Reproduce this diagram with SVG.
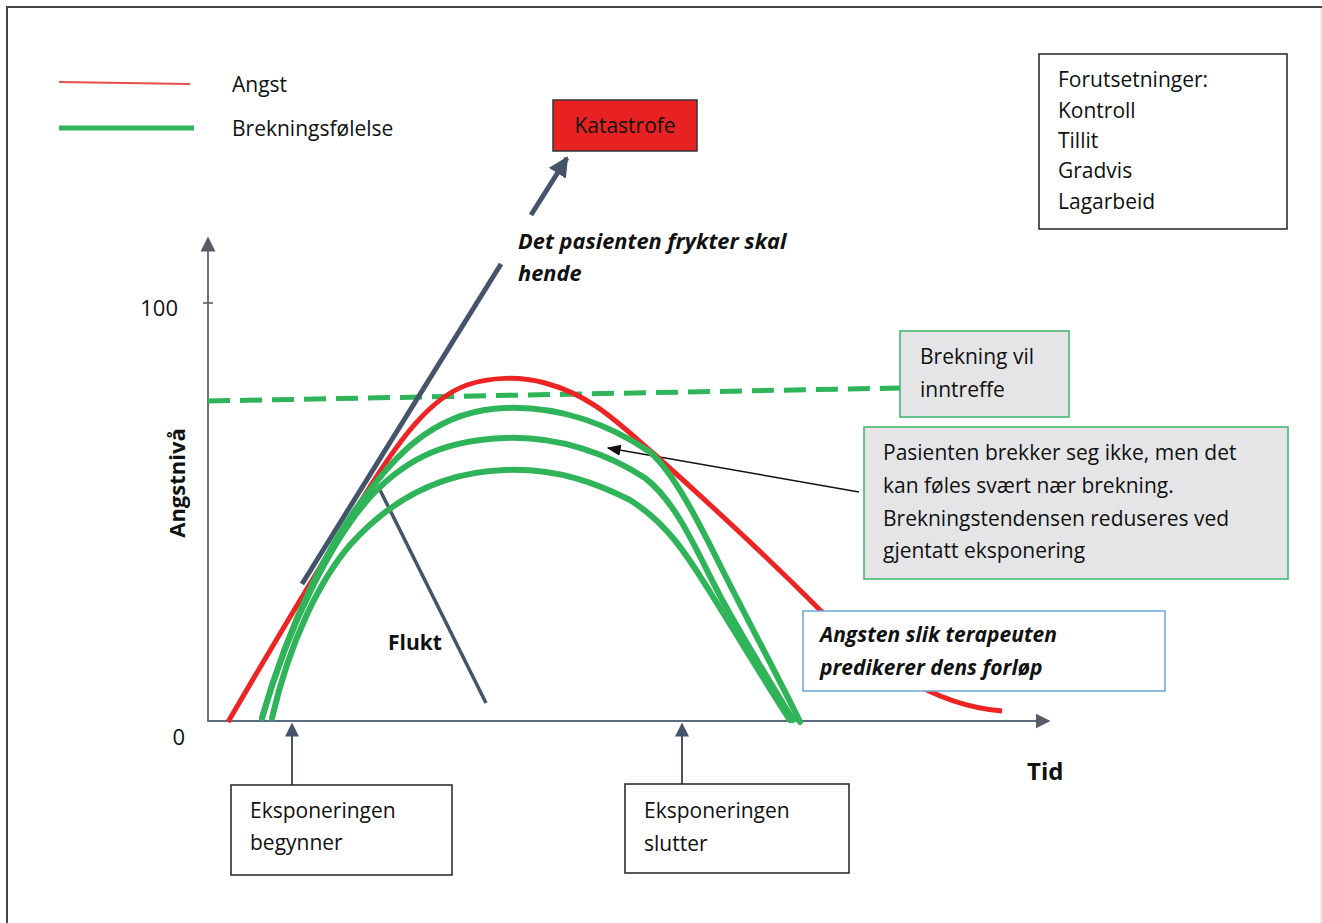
<svg xmlns="http://www.w3.org/2000/svg" width="1322" height="923" viewBox="0 0 1322 923">
<defs>
<style>
text{font-family:"Open Sans","Liberation Sans",Arial,sans-serif;font-size:21px;fill:#111}
.b{font-weight:bold}
.bi{font-weight:bold;font-style:italic}
.box{fill:#fff;stroke:#222;stroke-width:1.5}
.gbox{fill:#e5e5e7;stroke:#3bb36a;stroke-width:1.5}
.green{fill:none;stroke:#2fb45a;stroke-width:6;stroke-linecap:round}
.red{fill:none;stroke:#ee2424;stroke-width:5}
.slate{fill:none;stroke:#44546a}
</style>
<marker id="axArrow" viewBox="0 0 10 10" refX="9" refY="5" markerWidth="15" markerHeight="15" orient="auto" markerUnits="userSpaceOnUse"><path d="M0,0 L10,5 L0,10 Z" fill="#555c66"/></marker>
<marker id="slateArrow" viewBox="0 0 10 10" refX="9" refY="5" markerWidth="14" markerHeight="14" orient="auto" markerUnits="userSpaceOnUse"><path d="M0,0 L10,5 L0,10 Z" fill="#44546a"/></marker>
<marker id="bigArrow" viewBox="0 0 10 10" refX="9" refY="5" markerWidth="20" markerHeight="20" orient="auto" markerUnits="userSpaceOnUse"><path d="M0,0 L10,5 L0,10 Z" fill="#44546a"/></marker>
<marker id="blackArrow" viewBox="0 0 10 10" refX="9" refY="5" markerWidth="14" markerHeight="14" orient="auto" markerUnits="userSpaceOnUse"><path d="M0,1 L10,5 L0,9 Z" fill="#111"/></marker>
</defs>
<rect width="1322" height="923" fill="#fff"/>
<path d="M7,930 V7 H1322" fill="none" stroke="#444" stroke-width="2"/>
<line x1="1321" y1="8" x2="1321" y2="923" stroke="#ddd" stroke-width="1"/>

<g id="legend">
<line x1="59" y1="82" x2="190" y2="84" stroke="#e84c4c" stroke-width="2"/>
<line x1="59" y1="128" x2="194" y2="128" stroke="#2fb45a" stroke-width="5"/>
<text x="232" y="92">Angst</text>
<text x="232" y="136">Brekningsfølelse</text>
</g>

<g id="axes">
<line x1="208" y1="722" x2="208" y2="238" stroke="#6f747b" stroke-width="2" marker-end="url(#axArrow)"/>
<line x1="203" y1="303" x2="213" y2="303" stroke="#44546a" stroke-width="1.5"/>
<line x1="208" y1="721" x2="1049" y2="721" stroke="#5b6b82" stroke-width="2" marker-end="url(#axArrow)"/>
<text x="178" y="316" text-anchor="end" style="font-size:22px">100</text>
<text x="185" y="745" text-anchor="end" style="font-size:22px">0</text>
<text class="b" x="185" y="483" text-anchor="middle" transform="rotate(-90 185 483)" style="font-size:22px">Angstnivå</text>
<text class="b" x="1027" y="780" style="font-size:24px">Tid</text>
</g>

<g id="connectors">
<line x1="208" y1="401" x2="900" y2="388" stroke="#2fb45a" stroke-width="5" stroke-dasharray="22 10"/>
<line x1="302" y1="584" x2="501" y2="264" class="slate" stroke-width="5"/>
<line x1="531" y1="215" x2="567" y2="158" class="slate" stroke-width="5" marker-end="url(#bigArrow)"/>
<line x1="378" y1="486" x2="486" y2="703" class="slate" stroke-width="3.5"/>
<line x1="292" y1="785" x2="292" y2="724" class="slate" stroke-width="2" marker-end="url(#slateArrow)"/>
<line x1="682" y1="785" x2="682" y2="724" class="slate" stroke-width="2" marker-end="url(#slateArrow)"/>
<line x1="859" y1="492" x2="608" y2="448" stroke="#111" stroke-width="1.5" marker-end="url(#blackArrow)"/>
</g>

<g id="curves">
<path class="red" d="M228,722 C270,650 330,550 373,482 C400,440 430,398 467,385 C490,377 520,376 545,383 C590,395 615,420 653,453 C700,495 770,560 820,610 C880,665 930,705 1002,711"/>
<path class="green" d="M262,718 C290,620 330,540 370,490 C400,450 440,410 505,408 C560,406 610,425 650,452 C675,474 700,525 720,565 C750,625 785,690 800,722"/>
<path class="green" d="M262,718 C290,620 335,535 372,495 C410,455 450,440 505,438 C560,436 610,455 645,478 C680,505 700,560 725,605 C750,650 775,690 793,720"/>
<path class="green" d="M272,718 C290,640 320,580 350,545 C390,500 440,472 505,470 C560,468 600,485 630,500 C670,525 690,560 715,600 C740,640 770,690 790,720"/>
</g>

<g id="katastrofe">
<rect x="553" y="100" width="144" height="51" fill="#e82222" stroke="#333" stroke-width="1.5"/>
<text x="625" y="133" text-anchor="middle">Katastrofe</text>
</g>

<g id="fear-label">
<text class="bi" x="518" y="249" style="font-size:21.8px">Det pasienten frykter skal</text>
<text class="bi" x="518" y="281" style="font-size:21.8px">hende</text>
</g>

<g id="flukt">
<text class="b" x="388" y="650">Flukt</text>
</g>

<g id="forutsetninger">
<rect class="box" x="1039" y="54" width="248" height="175"/>
<text x="1058" y="87">Forutsetninger:</text>
<text x="1058" y="118">Kontroll</text>
<text x="1058" y="148">Tillit</text>
<text x="1058" y="178">Gradvis</text>
<text x="1058" y="209">Lagarbeid</text>
</g>

<g id="brekning-vil">
<rect class="gbox" x="900" y="331" width="169" height="86"/>
<text x="920" y="364">Brekning vil</text>
<text x="920" y="397">inntreffe</text>
</g>

<g id="pasienten">
<rect class="gbox" x="864" y="427" width="424" height="152"/>
<text x="883" y="460">Pasienten brekker seg ikke, men det</text>
<text x="883" y="493">kan føles svært nær brekning.</text>
<text x="883" y="526">Brekningstendensen reduseres ved</text>
<text x="883" y="558">gjentatt eksponering</text>
</g>

<g id="angsten">
<rect x="803" y="611" width="362" height="80" fill="#fff" stroke="#6aa6dc" stroke-width="1.5"/>
<text class="bi" x="820" y="642">Angsten slik terapeuten</text>
<text class="bi" x="820" y="675">predikerer dens forløp</text>
</g>

<g id="start">
<rect class="box" x="231" y="785" width="221" height="90"/>
<text x="250" y="818">Eksponeringen</text>
<text x="250" y="850">begynner</text>
</g>

<g id="end">
<rect class="box" x="625" y="784" width="224" height="89"/>
<text x="644" y="818">Eksponeringen</text>
<text x="644" y="851">slutter</text>
</g>
</svg>
